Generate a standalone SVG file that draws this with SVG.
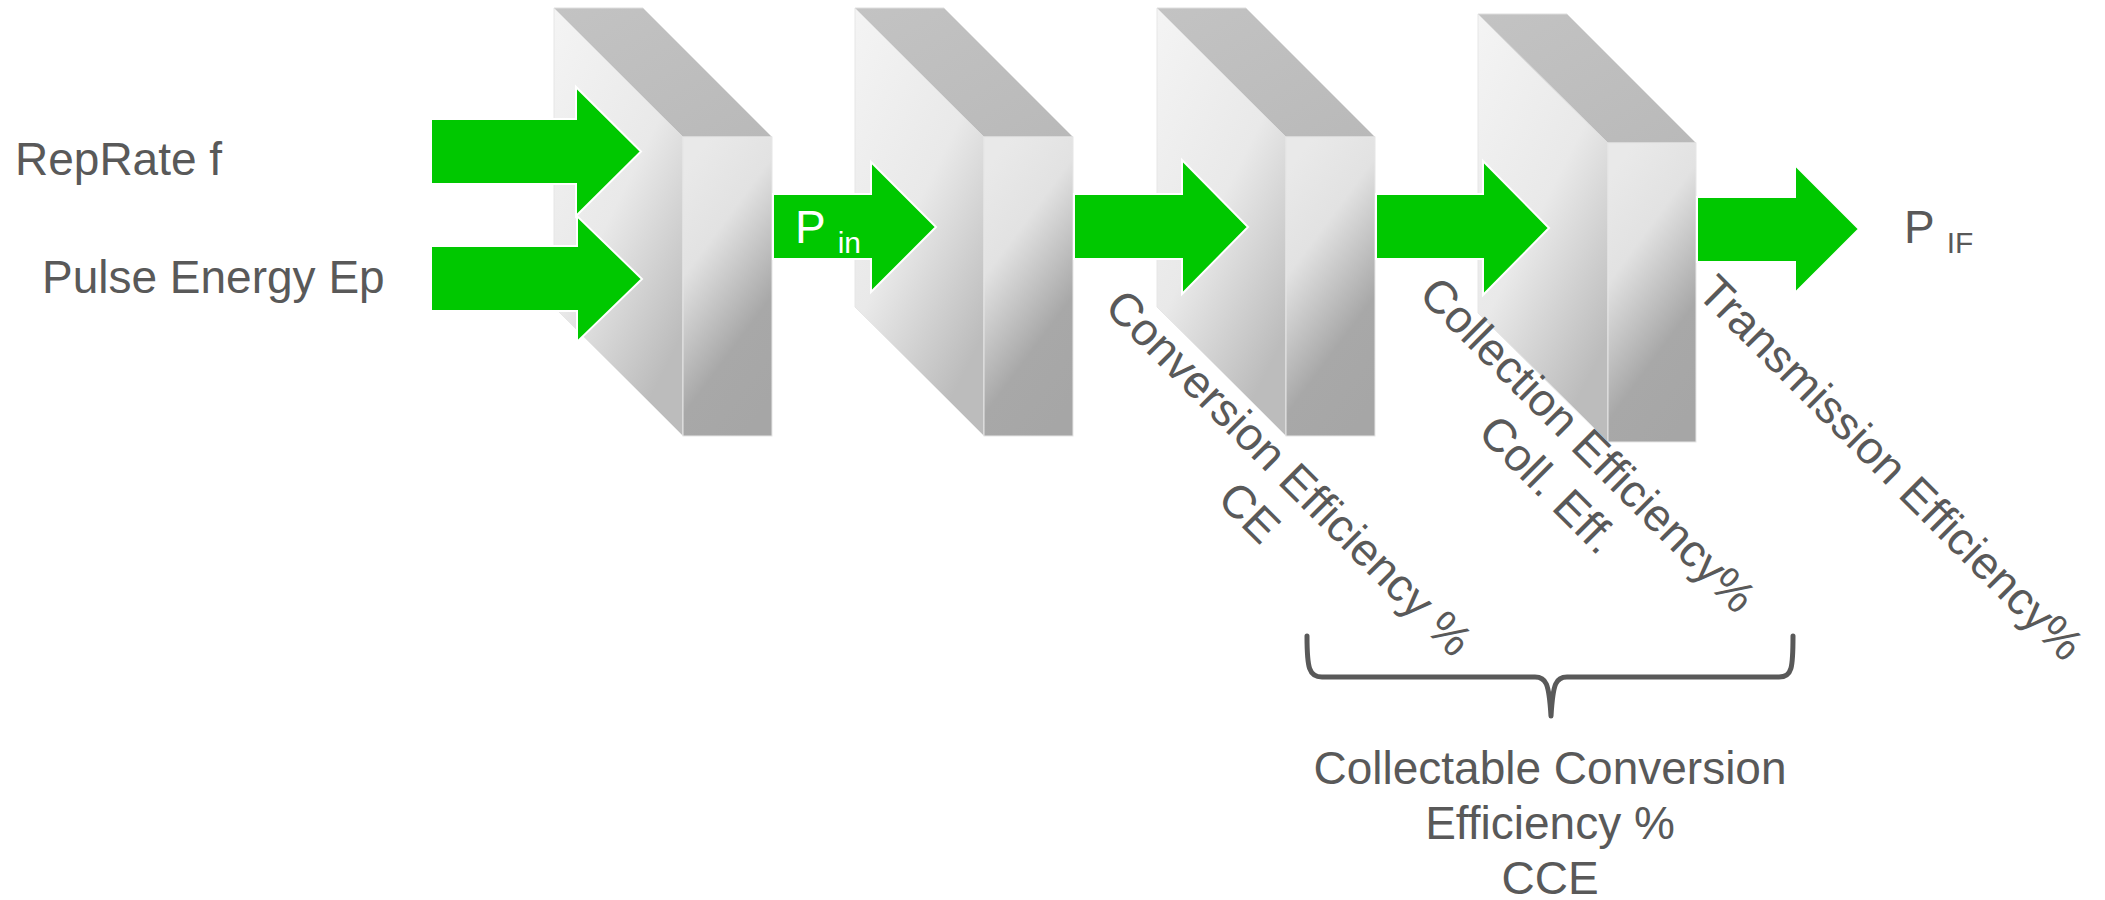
<svg xmlns="http://www.w3.org/2000/svg" width="2105" height="900" viewBox="0 0 2105 900">
<style>
text { font-family: "Liberation Sans", Arial, sans-serif; fill: #595959; font-size: 46px; }
.side { fill: url(#gSide); stroke: #e6e6e6; stroke-width: 1; }
.top { fill: url(#gTop); stroke: #dedede; stroke-width: 1; }
.front { fill: url(#gFront); stroke: #e6e6e6; stroke-width: 1; }
.arrow { fill: #00c800; stroke: #ffffff; stroke-width: 2; stroke-linejoin: miter; }
.brace { fill: none; stroke: #595959; stroke-width: 5; stroke-linecap: round; stroke-linejoin: round; }
.sub { font-size: 30px; }
</style>
<defs>
<linearGradient id="gSide" x1="0" y1="0" x2="0.6" y2="1">
<stop offset="0" stop-color="#f4f4f4"/>
<stop offset="0.55" stop-color="#e9e9e9"/>
<stop offset="1" stop-color="#bcbcbc"/>
</linearGradient>
<linearGradient id="gTop" x1="0" y1="0" x2="1" y2="1">
<stop offset="0" stop-color="#c3c3c3"/>
<stop offset="1" stop-color="#b9b9b9"/>
</linearGradient>
<linearGradient id="gFront" x1="0.3" y1="0" x2="0.7" y2="1">
<stop offset="0" stop-color="#e9e9e9"/>
<stop offset="0.3" stop-color="#e2e2e2"/>
<stop offset="0.7" stop-color="#a8a8a8"/>
<stop offset="1" stop-color="#a6a6a6"/>
</linearGradient>
</defs>

<g id="block1">
<polygon class="side" points="554,8 683,137 683,436 554,307"/>
<polygon class="top" points="554,8 643,8 772,137 683,137"/>
<rect class="front" x="683" y="137" width="89" height="299"/>
</g>
<g id="block2">
<polygon class="side" points="855,8 984,137 984,436 855,307"/>
<polygon class="top" points="855,8 944,8 1073,137 984,137"/>
<rect class="front" x="984" y="137" width="89" height="299"/>
</g>
<g id="block3">
<polygon class="side" points="1157,8 1286,137 1286,436 1157,307"/>
<polygon class="top" points="1157,8 1246,8 1375,137 1286,137"/>
<rect class="front" x="1286" y="137" width="89" height="299"/>
</g>
<g id="block4">
<polygon class="side" points="1478,14 1608,143 1608,442 1478,313"/>
<polygon class="top" points="1478,14 1567,14 1696,143 1608,143"/>
<rect class="front" x="1608" y="143" width="88" height="299"/>
</g>

<g id="connectors">
<path class="arrow" d="M431,119 H576 V87 L641,151.5 L576,216 V184 H431 Z"/>
<path class="arrow" d="M431,246 H577 V216 L642,279 L577,342 V311 H431 Z"/>
<path class="arrow" d="M773,194 H871 V162 L936,227 L871,292 V259 H773 Z"/>
<path class="arrow" d="M1074,194 H1182 V160 L1248,227 L1182,294 V259 H1074 Z"/>
<path class="arrow" d="M1376,194 H1483 V161 L1549,228 L1483,295 V259 H1376 Z"/>
<path class="arrow" d="M1697,197 H1795 V165 L1859,229 L1795,293 V262 H1697 Z"/>
</g>

<g id="label-reprate"><text x="15" y="175">RepRate f</text></g>
<g id="label-pulse"><text x="42" y="293">Pulse Energy Ep</text></g>
<g id="label-pin"><text x="795" y="243" style="fill:#ffffff">P <tspan class="sub" dy="10" style="fill:#ffffff">in</tspan></text></g>
<g id="label-pif"><text x="1904" y="243">P <tspan class="sub" dy="10">IF</tspan></text></g>

<g id="label-conversion">
<text transform="translate(1278,484) rotate(45)" text-anchor="middle"><tspan x="0" y="0">Conversion Efficiency %</tspan><tspan x="0" y="56">CE</tspan></text>
</g>
<g id="label-collection">
<text transform="translate(1577,456) rotate(45)" text-anchor="middle"><tspan x="0" y="0">Collection Efficiency%</tspan><tspan x="0" y="56">Coll. Eff.</tspan></text>
</g>
<g id="label-transmission">
<text transform="translate(1880,479) rotate(45)" text-anchor="middle">Transmission Efficiency%</text>
</g>

<g id="brace">
<path class="brace" d="M1307,636 C1307,668 1309,677 1322,677 L1535,677 C1546,677 1549,683 1551,716 C1553,683 1556,677 1567,677 L1779,677 C1792,677 1793,668 1793,636"/>
</g>
<g id="label-cce">
<text text-anchor="middle"><tspan x="1550" y="784">Collectable Conversion</tspan><tspan x="1550" y="839">Efficiency %</tspan><tspan x="1550" y="894">CCE</tspan></text>
</g>
</svg>
